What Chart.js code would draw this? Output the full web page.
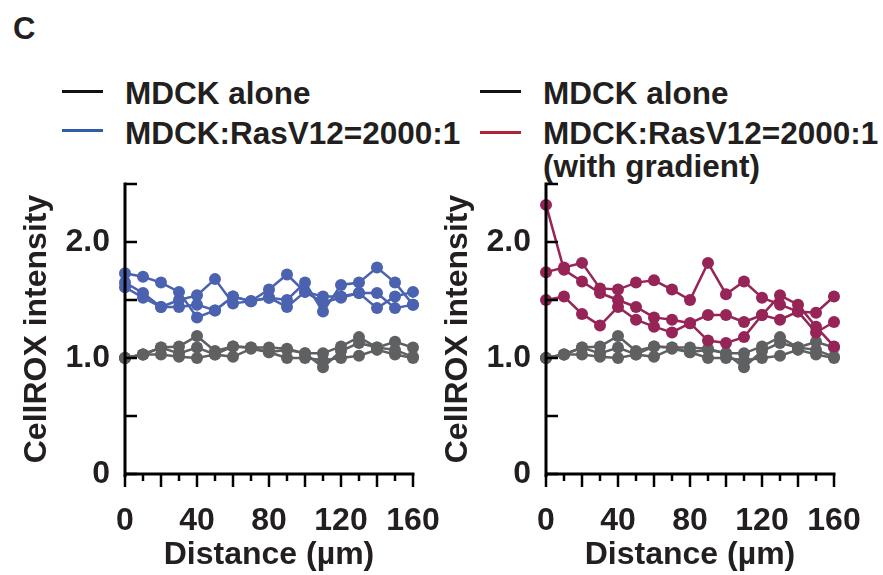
<!DOCTYPE html>
<html>
<head>
<meta charset="utf-8">
<script src="https://cdn.jsdelivr.net/npm/chart.js@4/dist/chart.umd.min.js"></script>
<style>
  html, body { margin: 0; padding: 0; background: #fff; }
  body { width: 883px; height: 575px; position: relative; overflow: hidden;
         font-family: "Liberation Sans", Arial, sans-serif; font-weight: bold; color: #231f20; }
  .panel { position: absolute; font-size: 31px; left: 13px; top: 11px; }
  .leg-line { position: absolute; height: 3px; width: 41px; }
  .leg-text { position: absolute; font-size: 31.5px; line-height: 33px; white-space: nowrap; }
  canvas { position: absolute; top: 0; }
</style>
</head>
<body>
<div class="panel">C</div>

<div class="leg-line" style="left:62px; top:90px; background:#111;"></div>
<div class="leg-text" style="left:125px; top:77px;">MDCK alone</div>
<div class="leg-line" style="left:62px; top:129px; background:#2f5daa;"></div>
<div class="leg-text" style="left:125px; top:117px;">MDCK:RasV12=2000:1</div>

<div class="leg-line" style="left:480px; top:90px; background:#111;"></div>
<div class="leg-text" style="left:543px; top:77px;">MDCK alone</div>
<div class="leg-line" style="left:480px; top:131px; background:#b02436;"></div>
<div class="leg-text" style="left:543px; top:117px;">MDCK:RasV12=2000:1<br>(with gradient)</div>

<canvas id="leftChart" width="441" height="575" style="left:0;"></canvas>
<canvas id="rightChart" width="462" height="575" style="left:421px;"></canvas>

<script>
// distance along the line (µm)
const distance = [0, 10, 20, 30, 40, 50, 60, 70, 80, 90, 100, 110, 120, 130, 140, 150, 160];

// MDCK alone (same three traces in both panels)
const alone1 = [1.00, 1.03, 1.09, 1.10, 1.19, 1.06, 1.10, 1.09, 1.09, 1.08, 1.04, 1.04, 1.10, 1.18, 1.09, 1.14, 1.09];
const alone2 = [1.00, 1.03, 1.09, 1.04, 1.09, 1.03, 1.10, 1.09, 1.05, 1.07, 1.04, 0.92, 1.06, 1.13, 1.09, 1.07, 1.01];
const alone3 = [1.00, 1.03, 1.03, 1.01, 1.00, 1.03, 1.01, 1.08, 1.05, 1.00, 1.00, 0.98, 1.00, 1.02, 1.07, 1.03, 1.00];

// MDCK:RasV12 = 2000:1
const mix1 = [1.73, 1.70, 1.65, 1.57, 1.35, 1.41, 1.53, 1.49, 1.52, 1.50, 1.65, 1.40, 1.63, 1.65, 1.78, 1.65, 1.46];
const mix2 = [1.65, 1.56, 1.44, 1.50, 1.54, 1.68, 1.47, 1.49, 1.59, 1.72, 1.57, 1.48, 1.52, 1.56, 1.43, 1.53, 1.57];
const mix3 = [1.61, 1.52, 1.44, 1.44, 1.46, 1.41, 1.53, 1.49, 1.52, 1.44, 1.57, 1.53, 1.53, 1.56, 1.56, 1.43, 1.46];

// MDCK:RasV12 = 2000:1 (with gradient)
const grad1 = [2.32, 1.76, 1.66, 1.56, 1.50, 1.44, 1.35, 1.33, 1.30, 1.15, 1.13, 1.18, 1.37, 1.54, 1.46, 1.27, 1.10];
const grad2 = [1.74, 1.78, 1.82, 1.60, 1.59, 1.65, 1.67, 1.59, 1.50, 1.82, 1.55, 1.66, 1.52, 1.46, 1.40, 1.22, 1.31];
const grad3 = [1.50, 1.53, 1.38, 1.28, 1.44, 1.33, 1.27, 1.22, 1.30, 1.37, 1.37, 1.31, 1.37, 1.33, 1.40, 1.39, 1.53];

const yTicks = [0, 0.5, 1, 1.5, 2, 2.5];

const GRAY = '#5f6062';
const BLUE = '#4a62b0';
const RED = '#962456';
const INK = '#231f20';
const FONT = { family: '"Liberation Sans", Arial, sans-serif', weight: 'bold', size: 32 };

const pts = arr => distance.map((d, i) => ({ x: d, y: arr[i] }));

function series(arr, color) {
  return {
    data: pts(arr),
    borderColor: color,
    backgroundColor: color,
    borderWidth: 2.5,
    pointRadius: 6,
    pointHoverRadius: 6,
    pointBorderWidth: 0,
    tension: 0,
    clip: false
  };
}

// axis lines + ticks: y ticks point inward, x ticks point down (long every 20 µm)
const axesPlugin = {
  id: 'prismAxes',
  afterDraw(chart) {
    const { ctx, scales: { x, y } } = chart;
    const x0 = x.getPixelForValue(0), x1 = x.getPixelForValue(160);
    const y0 = y.getPixelForValue(0), y1 = y.getPixelForValue(2.5);
    ctx.save();
    ctx.strokeStyle = '#000';
    ctx.lineCap = 'butt';
    ctx.lineWidth = 3;
    ctx.beginPath();
    ctx.moveTo(x0, y1 - 1.5);
    ctx.lineTo(x0, y0 + 3);
    ctx.moveTo(x0 - 1.5, y0);
    ctx.lineTo(x1 + 1.5, y0);
    ctx.stroke();
    ctx.lineWidth = 2.5;
    ctx.beginPath();
    yTicks.forEach(v => {
      const py = y.getPixelForValue(v);
      ctx.moveTo(x0, py);
      ctx.lineTo(x0 + 12, py);
    });
    distance.forEach(d => {
      const px = x.getPixelForValue(d);
      ctx.moveTo(px, y0);
      ctx.lineTo(px, y0 + (d % 20 === 0 ? 13 : 7));
    });
    ctx.stroke();
    ctx.restore();
  }
};

function makeChart(id, colored, color, rightPad) {
  new Chart(document.getElementById(id), {
    type: 'line',
    data: {
      datasets: [
        series(colored[0], color),
        series(colored[1], color),
        series(colored[2], color),
        series(alone1, GRAY),
        series(alone2, GRAY),
        series(alone3, GRAY)
      ]
    },
    options: {
      responsive: false,
      animation: false,
      events: [],
      layout: { padding: { top: 184, right: rightPad, bottom: 0, left: 0 } },
      plugins: { legend: { display: false }, tooltip: { enabled: false } },
      scales: {
        x: {
          type: 'linear',
          min: 0,
          max: 160,
          grid: { display: false, drawTicks: false },
          border: { display: false },
          ticks: { stepSize: 40, padding: 28, color: INK, font: FONT, maxRotation: 0 },
          title: { display: true, text: 'Distance (µm)', color: INK, font: FONT, padding: { top: 0, bottom: 1 } },
          afterFit: s => { s.height = 101; s.paddingLeft = 0; s.paddingRight = 0; }
        },
        y: {
          min: 0,
          max: 2.5,
          grid: { display: false, drawTicks: false },
          border: { display: false },
          ticks: {
            stepSize: 1,
            includeBounds: false,
            padding: 15,
            color: INK,
            font: FONT,
            callback: v => (v === 0 ? '0' : v.toFixed(1))
          },
          title: { display: true, text: 'CellROX intensity', color: INK, font: FONT, padding: { top: 18, bottom: 0 } },
          afterFit: s => { s.width = 125; s.paddingTop = 0; s.paddingBottom = 0; }
        }
      }
    },
    plugins: [axesPlugin]
  });
}

makeChart('leftChart', [mix1, mix2, mix3], BLUE, 28);
makeChart('rightChart', [grad1, grad2, grad3], RED, 49);
</script>
</body>
</html>
